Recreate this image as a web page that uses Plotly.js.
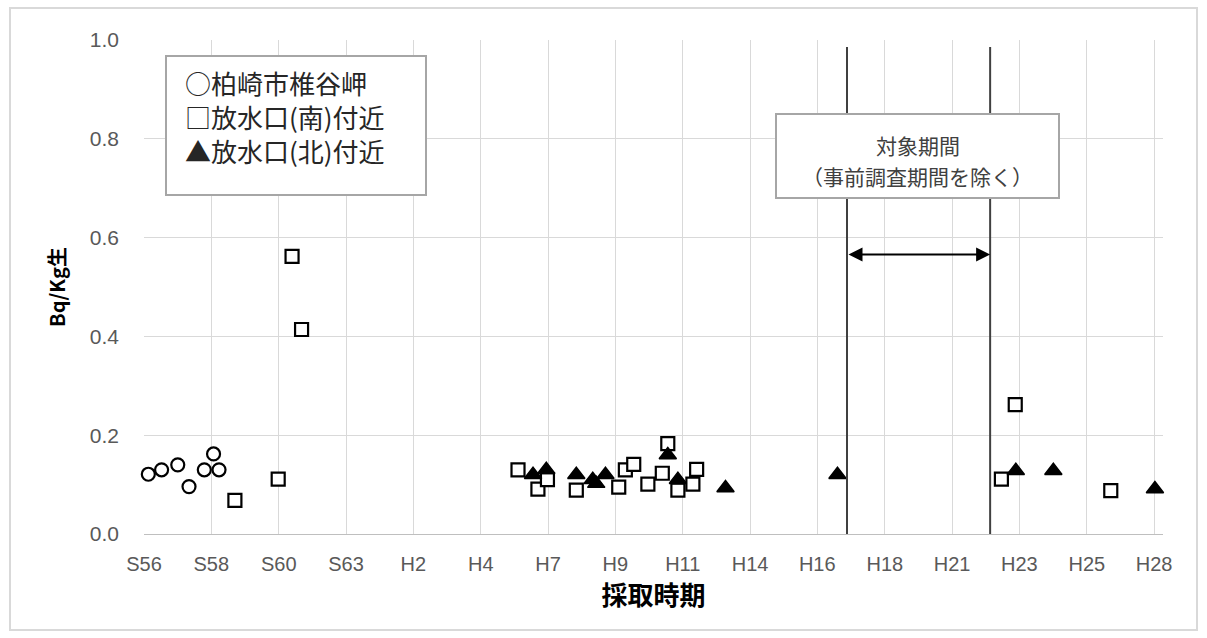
<!DOCTYPE html>
<html>
<head>
<meta charset="utf-8">
<script src="https://cdn.plot.ly/plotly-3.0.1.min.js"></script>
<style>
  html, body { margin: 0; padding: 0; background: #ffffff; }
  #chart { width: 1207px; height: 638px; }
</style>
</head>
<body>
<div id="chart"></div>
<script>
// ---- data (x = decimal year of sampling, y = Bq/kg生) ----
const tickYears  = [1981, 1983.33, 1985.67, 1988, 1990.33, 1992.67, 1995, 1997.33, 1999.67, 2002, 2004.33, 2006.67, 2009, 2011.33, 2013.67, 2016];
const tickLabels = ['S56', 'S58', 'S60', 'S63', 'H2', 'H4', 'H7', 'H9', 'H11', 'H14', 'H16', 'H18', 'H21', 'H23', 'H25', 'H28'];

const shiiyaX = [1981.15, 1981.61, 1982.17, 1982.56, 1983.09, 1983.41, 1983.60];
const shiiyaY = [0.121, 0.130, 0.140, 0.096, 0.130, 0.162, 0.130];

const southX = [1984.15, 1985.65, 1986.13, 1986.46, 1993.96, 1994.65, 1994.98, 1995.98, 1997.45, 1997.68, 1997.97, 1998.46, 1998.96, 1999.15, 1999.50, 2000.02, 2000.15, 2010.71, 2011.19, 2014.50];
const southY = [0.068, 0.111, 0.562, 0.414, 0.130, 0.091, 0.110, 0.089, 0.095, 0.130, 0.141, 0.101, 0.123, 0.183, 0.089, 0.101, 0.131, 0.111, 0.262, 0.088];

const northX = [1994.48, 1994.94, 1995.98, 1996.55, 1996.67, 1996.99, 1999.15, 1999.50, 2001.15, 2005.03, 2011.21, 2012.51, 2016.03];
const northY = [0.120, 0.130, 0.120, 0.110, 0.102, 0.120, 0.160, 0.110, 0.093, 0.120, 0.128, 0.128, 0.091];

const periodBounds = [2005.36, 2010.32];
const periodArrowY = 0.566;
const periodLabels = ['対象期間', '（事前調査期間を除く）'];
const legendLabels = ['○柏崎市椎谷岬', '□放水口(南)付近', '▲放水口(北)付近'];

// ---- traces ----
const cjk = '"Noto Sans CJK JP", "Noto Sans", sans-serif';
const traces = [
  { x: shiiyaX, y: shiiyaY, type: 'scatter', mode: 'markers', name: legendLabels[0], cliponaxis: false,
    marker: { symbol: 'circle', size: 13, color: '#ffffff', line: { color: '#000000', width: 2.2 } } },
  { x: southX, y: southY, type: 'scatter', mode: 'markers', name: legendLabels[1], cliponaxis: false,
    marker: { symbol: 'square', size: 13, color: '#ffffff', line: { color: '#000000', width: 2.2 } } },
  { x: northX, y: northY, type: 'scatter', mode: 'markers', name: legendLabels[2], cliponaxis: false,
    marker: { symbol: 'triangle-up', size: 15, color: '#000000', line: { color: '#000000', width: 1.5 } } }
];

// ---- layout ----
const L = 144, R = 44, T = 40, B = 104, W = 1207, H = 638;
const pw = W - L - R, ph = H - T - B;
const px = v => (v - L) / pw;          // pixel -> paper x
const py = v => (H - B - v) / ph;      // pixel -> paper y

const shapes = [
  // outer chart frame
  { type: 'rect', xref: 'paper', yref: 'paper', x0: px(10), x1: px(1197), y0: py(630), y1: py(8),
    line: { color: '#d9d9d9', width: 2 }, fillcolor: 'rgba(0,0,0,0)', layer: 'below' },
  // period boundary lines
  { type: 'line', xref: 'x', yref: 'paper', x0: periodBounds[0], x1: periodBounds[0], y0: 0, y1: py(47),
    line: { color: '#404040', width: 2 }, layer: 'above' },
  { type: 'line', xref: 'x', yref: 'paper', x0: periodBounds[1], x1: periodBounds[1], y0: 0, y1: py(47),
    line: { color: '#404040', width: 2 }, layer: 'above' },
  // period label box
  { type: 'rect', xref: 'paper', yref: 'paper', x0: px(776), x1: px(1059), y0: py(198), y1: py(114),
    line: { color: '#a6a6a6', width: 2 }, fillcolor: '#ffffff', layer: 'above' },
  // legend box
  { type: 'rect', xref: 'paper', yref: 'paper', x0: px(166), x1: px(426), y0: py(195), y1: py(56),
    line: { color: '#a6a6a6', width: 2 }, fillcolor: '#ffffff', layer: 'above' }
];

const annotations = [
  // double-headed arrow for the target period
  { x: periodBounds[1], y: periodArrowY, ax: periodBounds[0], ay: periodArrowY,
    xref: 'x', yref: 'y', axref: 'x', ayref: 'y', text: '', showarrow: true,
    arrowhead: 2, startarrowhead: 2, arrowside: 'end+start', arrowsize: 1.4, startarrowsize: 1.4,
    arrowwidth: 2, arrowcolor: '#000000', standoff: 0, startstandoff: 0 },
  // period label (two lines)
  { xref: 'paper', yref: 'paper', x: px(917.5), y: py(145), text: periodLabels[0], showarrow: false,
    xanchor: 'center', yanchor: 'middle', align: 'center',
    font: { family: cjk, size: 21, color: '#404040' } },
  { xref: 'paper', yref: 'paper', x: px(917.5), y: py(176), text: periodLabels[1], showarrow: false,
    xanchor: 'center', yanchor: 'middle', align: 'center',
    font: { family: cjk, size: 21, color: '#404040' } },
  // legend text
  { xref: 'paper', yref: 'paper', x: px(183), y: py(117), text: legendLabels.join('<br>'), showarrow: false,
    xanchor: 'left', yanchor: 'middle', align: 'left',
    font: { family: cjk, size: 26, color: '#262626' } }
];

const layout = {
  width: W, height: H,
  margin: { l: L, r: R, t: T, b: B, pad: 0 },
  paper_bgcolor: '#ffffff', plot_bgcolor: '#ffffff',
  showlegend: false,
  xaxis: {
    range: [1981, 2016.31], tickmode: 'array', tickvals: tickYears, ticktext: tickLabels,
    showgrid: true, gridcolor: '#d9d9d9', gridwidth: 1,
    showline: true, linecolor: '#bfbfbf', linewidth: 1, zeroline: false,
    ticks: '', ticklabelstandoff: 12,
    tickfont: { family: '"Liberation Sans", Arial, sans-serif', size: 20, color: '#595959' },
    title: { text: '採取時期', standoff: 12, font: { family: cjk, size: 26, color: '#000000', weight: 'bold' } }
  },
  yaxis: {
    range: [0, 1], tickmode: 'linear', tick0: 0, dtick: 0.2, tickformat: '.1f',
    showgrid: true, gridcolor: '#d9d9d9', gridwidth: 1,
    showline: false, zeroline: false,
    ticks: '', ticklabelstandoff: 24,
    tickfont: { family: '"Liberation Sans", Arial, sans-serif', size: 21, color: '#595959' },
    title: { text: 'Bq/Kg生', standoff: 18, font: { family: cjk, size: 20, color: '#000000', weight: 'bold' } }
  },
  shapes: shapes,
  annotations: annotations
};

Plotly.newPlot('chart', traces, layout, { displayModeBar: false, staticPlot: true });
</script>
</body>
</html>
